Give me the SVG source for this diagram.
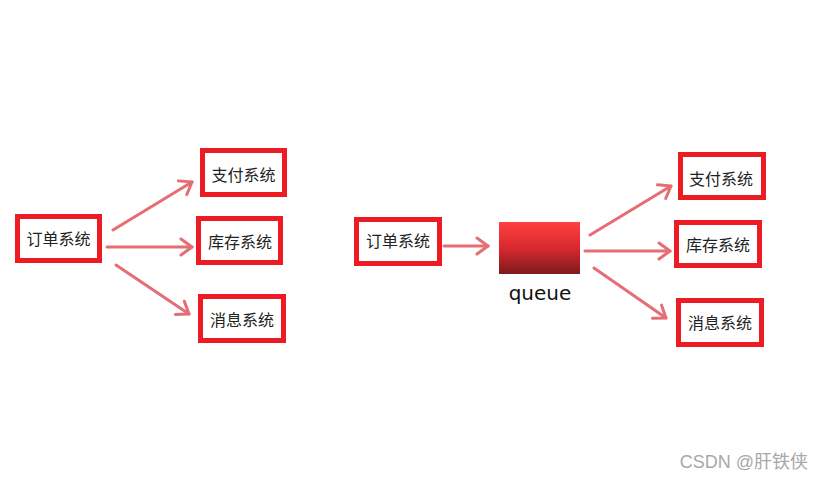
<svg xmlns="http://www.w3.org/2000/svg" width="825" height="479" viewBox="0 0 825 479">
<style>
.box{fill:#fff;stroke:#ed1c24;stroke-width:5}
.lbl{font-family:"Noto Sans CJK SC","Noto Sans",sans-serif;font-size:16px;fill:#222;text-anchor:middle;dominant-baseline:central}
.arr{stroke:#e2545c;stroke-width:3;fill:none;stroke-linecap:round;stroke-linejoin:round;opacity:0.85;marker-end:url(#ah)}
</style>
<defs>
<marker id="ah" markerUnits="userSpaceOnUse" markerWidth="24" markerHeight="24" viewBox="-14 -12 16 24" refX="0" refY="0" orient="auto">
<path d="M-11,-8 L0,0 L-11,8" fill="none" stroke="#e2545c" stroke-width="3" stroke-linecap="round" stroke-linejoin="round"/>
</marker>
<linearGradient id="qg" x1="0" y1="0" x2="0" y2="1">
<stop offset="0" stop-color="#ff4040"/>
<stop offset="0.5" stop-color="#d8292e"/>
<stop offset="1" stop-color="#7e1a1c"/>
</linearGradient>
</defs>
<rect width="825" height="479" fill="#fff"/>
<g id="connectors">
<line class="arr" x1="113" y1="230" x2="192" y2="182"/>
<line class="arr" x1="107" y1="247" x2="192" y2="247"/>
<line class="arr" x1="116" y1="265" x2="189" y2="314"/>
<line class="arr" x1="444" y1="246" x2="488" y2="246"/>
<line class="arr" x1="590" y1="235" x2="671" y2="186"/>
<line class="arr" x1="585" y1="251" x2="670" y2="251"/>
<line class="arr" x1="594" y1="268" x2="666" y2="318"/>
</g>
<g id="order-left"><rect class="box" x="17.5" y="216.5" width="82" height="44"/><text class="lbl" x="58.5" y="237.5">订单系统</text></g>
<g id="pay-left"><rect class="box" x="202.5" y="150.5" width="82" height="44"/><text class="lbl" x="243.5" y="174">支付系统</text></g>
<g id="stock-left"><rect class="box" x="198.5" y="218.5" width="82" height="44"/><text class="lbl" x="240" y="241">库存系统</text></g>
<g id="msg-left"><rect class="box" x="200.5" y="296.5" width="83" height="44"/><text class="lbl" x="242" y="319">消息系统</text></g>
<g id="order-right"><rect class="box" x="356.5" y="219.5" width="83" height="44"/><text class="lbl" x="398" y="240">订单系统</text></g>
<g id="queue"><rect x="499" y="222" width="81" height="52" fill="url(#qg)"/><text x="540" y="300" font-family="DejaVu Sans,sans-serif" font-size="20" fill="#111" text-anchor="middle">queue</text></g>
<g id="pay-right"><rect class="box" x="680.5" y="154.5" width="83" height="43"/><text class="lbl" x="721" y="178">支付系统</text></g>
<g id="stock-right"><rect class="box" x="676.5" y="222.5" width="83" height="43"/><text class="lbl" x="718" y="244">库存系统</text></g>
<g id="msg-right"><rect class="box" x="678.5" y="300.5" width="83" height="44"/><text class="lbl" x="720" y="322">消息系统</text></g>
<text x="808" y="468" font-family="Liberation Sans,Noto Sans CJK SC,sans-serif" font-size="18" fill="#a8a8a8" text-anchor="end">CSDN @肝铁侠</text>
</svg>
